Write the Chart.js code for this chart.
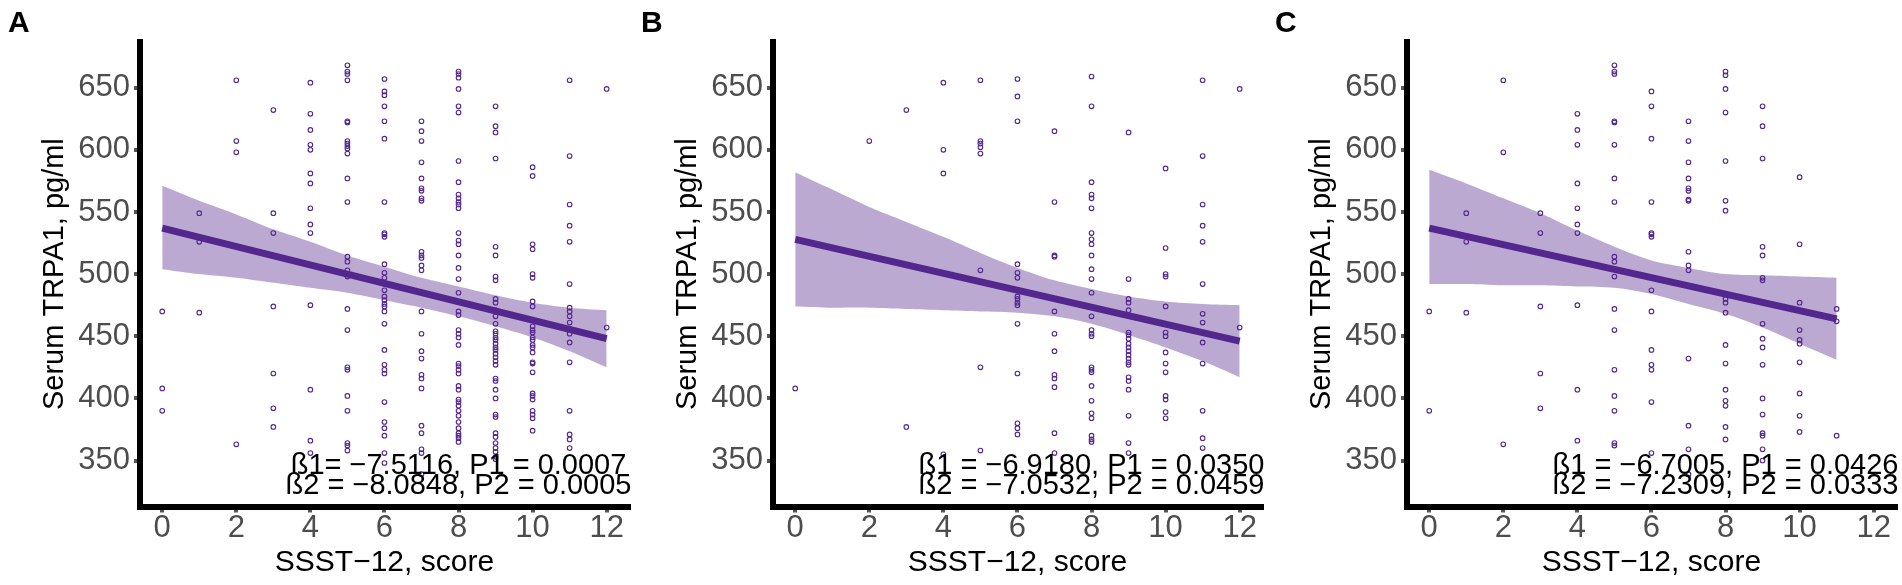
<!DOCTYPE html>
<html>
<head>
<meta charset="utf-8">
<script src="https://cdn.jsdelivr.net/npm/chart.js@4.4.1/dist/chart.umd.min.js"></script>
<style>
  html, body { margin: 0; padding: 0; background: #fff; }
  body { width: 1902px; height: 585px; position: relative; overflow: hidden; }
  .panel { position: absolute; top: 0; width: 634px; height: 585px; }
</style>
</head>
<body>
<div class="panel" style="left:0px"><canvas id="panelA" width="634" height="585"></canvas></div>
<div class="panel" style="left:633px"><canvas id="panelB" width="634" height="585"></canvas></div>
<div class="panel" style="left:1267px"><canvas id="panelC" width="634" height="585"></canvas></div>
<script>
// tick labels
const scoreTicks = [0, 2, 4, 6, 8, 10, 12];
const trpaTicks = [350, 400, 450, 500, 550, 600, 650];

// serum TRPA1 values, one list per SSST-12 score (index = score)
const trpaA = [
  [470, 408, 390],
  [549, 526, 469],
  [656, 607, 598, 363],
  [632, 549, 533, 474, 420, 392, 377],
  [654, 629, 616, 604, 600, 581, 573, 553, 540, 533, 475, 407, 366, 356],
  [668, 663, 661, 656, 623, 622, 607, 605, 603, 601, 597, 577, 558, 514, 510, 503, 498, 472, 455, 425, 423, 402, 390, 364, 362, 358],
  [657, 647, 644, 635, 623, 609, 558, 533, 532, 530, 508, 501, 497, 492, 487, 482, 479, 476, 474, 470, 460, 439, 427, 423, 420, 397, 381, 376, 370, 356, 348],
  [623, 615, 607, 590, 577, 569, 567, 561, 559, 518, 515, 513, 507, 503, 470, 452, 438, 432, 419, 416, 408, 378, 372, 359, 356, 339],
  [663, 661, 658, 649, 635, 630, 591, 574, 564, 561, 558, 556, 553, 533, 527, 524, 515, 505, 496, 485, 470, 467, 455, 452, 449, 443, 428, 426, 423, 420, 410, 407, 399, 397, 394, 390, 386, 381, 376, 372, 370, 368, 365],
  [635, 619, 614, 593, 522, 515, 498, 495, 480, 477, 471, 466, 460, 454, 452, 449, 447, 444, 441, 439, 436, 433, 430, 427, 416, 414, 407, 400, 387, 385, 372, 369, 364, 360, 357, 353, 351],
  [586, 579, 524, 520, 500, 497, 478, 474, 458, 455, 453, 449, 447, 443, 441, 437, 429, 428, 421, 404, 402, 399, 390, 387, 384, 374],
  [656, 595, 556, 539, 526, 492, 473, 470, 466, 461, 452, 445, 429, 390, 371, 367, 360],
  [649, 457]
];
const trpaB = [
  [408],
  [],
  [607],
  [632, 377],
  [654, 600, 581, 355],
  [656, 607, 605, 602, 597, 503, 425, 358],
  [657, 643, 623, 508, 501, 497, 482, 480, 477, 475, 460, 420, 380, 376, 371],
  [615, 558, 515, 514, 470, 452, 438, 419, 416, 409, 372, 356],
  [659, 635, 574, 564, 561, 553, 533, 528, 524, 515, 504, 496, 485, 466, 455, 452, 450, 425, 423, 421, 410, 398, 388, 384, 370, 367, 365],
  [614, 496, 480, 477, 471, 453, 451, 448, 444, 441, 438, 435, 432, 429, 427, 417, 414, 407, 386, 364, 356],
  [585, 521, 500, 498, 474, 453, 450, 437, 428, 421, 402, 399, 389, 384],
  [656, 595, 556, 539, 526, 492, 468, 461, 445, 428, 390, 368, 360],
  [649, 457]
];
const trpaC = [
  [470, 390],
  [549, 526, 469],
  [656, 598, 363],
  [549, 533, 474, 420, 392],
  [629, 616, 604, 573, 553, 540, 533, 475, 407, 366],
  [668, 663, 661, 623, 622, 604, 577, 558, 514, 510, 498, 472, 455, 423, 402, 390, 364, 362],
  [647, 635, 609, 558, 533, 532, 530, 487, 470, 439, 427, 423, 397, 356],
  [623, 607, 590, 577, 569, 567, 560, 559, 518, 507, 503, 432, 378, 359, 339],
  [663, 660, 649, 630, 591, 559, 551, 480, 477, 469, 443, 428, 407, 398, 394, 377, 367],
  [635, 619, 593, 522, 515, 497, 495, 460, 448, 441, 427, 400, 387, 372, 370, 359, 350],
  [578, 524, 477, 455, 447, 444, 429, 404, 386, 373],
  [472, 462, 370]
];

// fitted lines (ends) and confidence band edges, read at each score
const fitXA = [0, 12], fitYA = [537, 448];
const bandUpA = [571, 559, 548, 536, 526, 515, 506, 497, 490, 483, 477, 473, 471];
const bandLoA = [504, 500, 497, 493, 489, 485, 479, 473, 466, 458, 449, 438, 425];

const fitXB = [0, 12], fitYB = [528, 446];
const bandUpB = [582, 568, 554, 542, 530, 517, 505, 495, 488, 482, 478, 476, 475];
const bandLoB = [474, 473, 473, 472, 471, 470, 469, 466, 460, 451, 441, 430, 417];

const fitXC = [0, 11], fitYC = [537, 464];
const bandUpC = [584, 573, 561, 549, 535, 522, 511, 505, 500, 499, 498, 497];
const bandLoC = [492, 492, 491, 491, 490, 489, 484, 476, 468, 457, 444, 431];

const notesA = ['ß1= −7.5116, P1 = 0.0007', 'ß2 = −8.0848, P2 = 0.0005'];
const notesB = ['ß1 = −6.9180, P1 = 0.0350', 'ß2 = −7.0532, P2 = 0.0459'];
const notesC = ['ß1 = −6.7005, P1 = 0.0426', 'ß2 = −7.2309, P2 = 0.0333'];

const FONT = '"Liberation Sans", Arial, sans-serif';
const PURPLE = '#54278F';

function toPoints(cols) {
  const pts = [];
  cols.forEach((vals, score) => vals.forEach(v => pts.push({x: score, y: v})));
  return pts;
}

function toLine(ys) {
  return ys.map((v, i) => ({x: i, y: v}));
}

function makePanel(id, letter, cols, fitX, fitY, bandUp, bandLo, notes) {
  const textPlugin = {
    id: 'panelText',
    afterDatasetsDraw(chart) {
      const ctx = chart.ctx;
      const xs = chart.scales.x;
      const bottom = chart.chartArea.bottom;
      ctx.save();
      ctx.fillStyle = '#000';
      ctx.font = '29px ' + FONT;
      ctx.textAlign = 'center';
      ctx.textBaseline = 'alphabetic';
      const cx = xs.getPixelForValue(8);
      ctx.fillText(notes[0], cx, bottom - 33);
      ctx.fillText(notes[1], cx, bottom - 12.5);
      ctx.font = 'bold 30px ' + FONT;
      ctx.textAlign = 'left';
      ctx.fillText(letter, 8, 32);
      ctx.restore();
    }
  };

  return new Chart(document.getElementById(id), {
    type: 'scatter',
    data: {
      datasets: [
        {
          data: toPoints(cols),
          pointStyle: 'circle',
          pointRadius: 2.3,
          pointBorderWidth: 1.1,
          pointBorderColor: PURPLE,
          pointBackgroundColor: 'rgba(0,0,0,0)',
          order: 0
        },
        {
          type: 'line',
          data: fitX.map((x, i) => ({x: x, y: fitY[i]})),
          borderColor: PURPLE,
          borderWidth: 7,
          pointRadius: 0,
          fill: false,
          order: 1
        },
        {
          type: 'line',
          data: toLine(bandUp),
          borderWidth: 0,
          borderColor: 'rgba(0,0,0,0)',
          backgroundColor: 'rgba(84,39,143,0.4)',
          pointRadius: 0,
          tension: 0.3,
          fill: '+1',
          order: 2
        },
        {
          type: 'line',
          data: toLine(bandLo),
          borderWidth: 0,
          borderColor: 'rgba(0,0,0,0)',
          pointRadius: 0,
          tension: 0.3,
          fill: false,
          order: 2
        }
      ]
    },
    options: {
      responsive: false,
      animation: false,
      layout: { padding: { top: 41.7, right: 3.7, left: 0, bottom: 0 } },
      plugins: { legend: { display: false }, tooltip: { enabled: false } },
      scales: {
        x: {
          type: 'linear',
          min: -0.6,
          max: 12.6,
          afterBuildTicks: s => { s.ticks = scoreTicks.map(v => ({value: v})); },
          afterFit: s => { s.height = 78.5; },
          border: { display: true, color: '#000', width: 6 },
          grid: { drawOnChartArea: false, drawTicks: true, tickLength: 6, color: '#555', lineWidth: 4 },
          ticks: { color: '#4D4D4D', font: { family: FONT, size: 31 }, padding: -3, maxRotation: 0 },
          title: { display: true, text: 'SSST−12, score', color: '#000', font: { family: FONT, size: 30 }, padding: { top: 0, bottom: 4 } }
        },
        y: {
          type: 'linear',
          min: 313,
          max: 687,
          afterBuildTicks: s => { s.ticks = trpaTicks.map(v => ({value: v})); },
          afterFit: s => { s.width = 140; },
          border: { display: true, color: '#000', width: 6 },
          grid: { drawOnChartArea: false, drawTicks: true, tickLength: 6, color: '#555', lineWidth: 4 },
          ticks: { color: '#4D4D4D', font: { family: FONT, size: 31 }, padding: 4 },
          title: { display: true, text: 'Serum TRPA1, pg/ml', color: '#000', font: { family: FONT, size: 29 }, padding: { top: 38, bottom: 0 } }
        }
      }
    },
    plugins: [textPlugin]
  });
}

makePanel('panelA', 'A', trpaA, fitXA, fitYA, bandUpA, bandLoA, notesA);
makePanel('panelB', 'B', trpaB, fitXB, fitYB, bandUpB, bandLoB, notesB);
makePanel('panelC', 'C', trpaC, fitXC, fitYC, bandUpC, bandLoC, notesC);
</script>
</body>
</html>
